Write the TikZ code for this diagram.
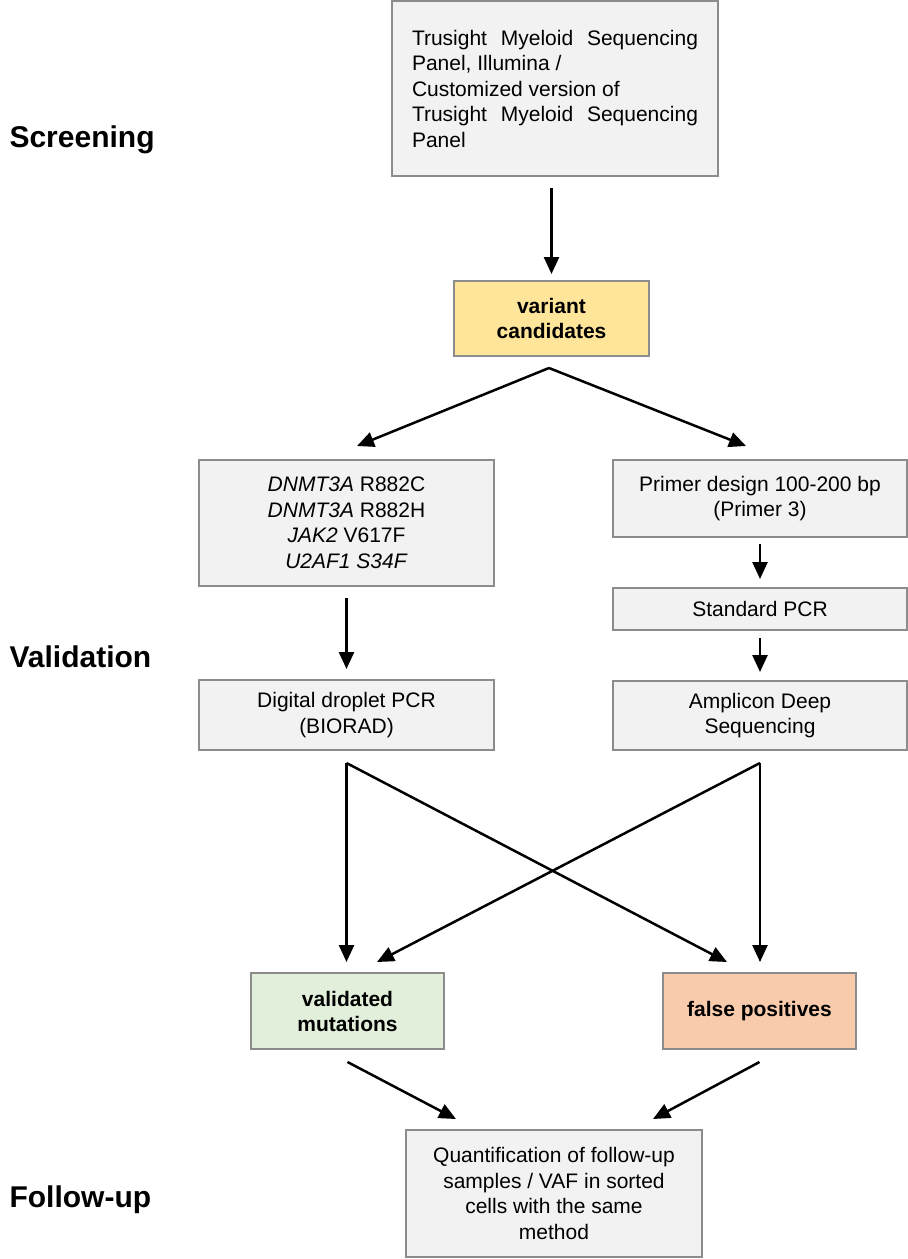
\documentclass[tikz,border=0pt]{standalone}
\usepackage{fontspec}
\setmainfont{Liberation Sans}
\usepackage{tikz}
\usetikzlibrary{arrows.meta}
\tikzset{box/.style = {draw = mborder, fill = mgray, line width = 2pt, align = center, inner sep = 0, font = \fontsize{21}{25.5}\selectfont}}
\tikzset{arr/.style = {-{Triangle[length = 17pt, width = 15pt]}, line width = 2.5pt}}
\tikzset{phase/.style = {anchor = base west, font = \fontsize{30}{36}\selectfont\bfseries}}
\definecolor{mgray}{rgb}{0.95, 0.95, 0.95}
\definecolor{mborder}{rgb}{0.55, 0.55, 0.55}
\definecolor{myellow}{rgb}{1, 0.9, 0.6}
\definecolor{mgreen}{rgb}{0.886, 0.937, 0.855}
\definecolor{morange}{rgb}{0.973, 0.796, 0.678}

\begin{document}
\begin{tikzpicture}[x = 1pt, y = -1pt]
    \useasboundingbox (0, 0) rectangle (908, 1259);

    \node [phase] (screening) at (6, 147) {Screening};
    \node [phase] (validation) at (6, 667) {Validation};
    \node [phase] (followup) at (6, 1207) {Follow-up};

    \node [box, minimum width = 326, minimum height = 175, text width = 286, align = justify] (panel) at (555, 88.5)
      {Trusight Myeloid Sequencing Panel, Illumina /\\Customized version of\\Trusight Myeloid Sequencing Panel};
    \node [box, fill = myellow, minimum width = 195, minimum height = 75, font = \fontsize{21}{25}\selectfont\bfseries] (variant) at (551.5, 318.5) {variant\\candidates};

    \node [box, minimum width = 295, minimum height = 126] (genes) at (346.5, 523)
      {\textit{DNMT3A} R882C\\\textit{DNMT3A} R882H\\\textit{JAK2} V617F\\\textit{U2AF1 S34F}};
    \node [box, minimum width = 295, minimum height = 70] (ddpcr) at (346.5, 715) {Digital droplet PCR\\(BIORAD)};

    \node [box, minimum width = 294, minimum height = 77] (primer) at (760, 498.5) {Primer design 100-200 bp\\(Primer 3)};
    \node [box, minimum width = 294, minimum height = 42] (pcr) at (760, 609) {Standard PCR};
    \node [box, minimum width = 294, minimum height = 69] (amplicon) at (760, 715.5) {Amplicon Deep\\Sequencing};

    \node [box, fill = mgreen, minimum width = 193, minimum height = 76, font = \fontsize{21}{25}\selectfont\bfseries] (valid) at (347.5, 1011) {validated\\mutations};
    \node [box, fill = morange, minimum width = 193, minimum height = 76, font = \fontsize{21}{25}\selectfont\bfseries] (falsepos) at (759.5, 1011) {false positives};

    \node [box, minimum width = 296, minimum height = 127] (quant) at (554, 1193.5)
      {Quantification of follow-up\\samples / VAF in sorted\\cells with the same\\method};

    \draw [arr, shorten <= 11pt, shorten >= 6pt] (variant.north |- panel.south) -- (variant.north);
    \draw [arr] ([xshift = -2.5, yshift = -11]variant.south) -- ([xshift = 10.5, yshift = 13]genes.north);
    \draw [arr] ([xshift = -2.5, yshift = -11]variant.south) -- ([xshift = -14, yshift = 13]primer.north);

    \draw [arr, shorten <= 11pt, shorten >= 10pt] (genes) -- (ddpcr);
    \draw [arr, shorten <= 6pt, shorten >= 8pt] (primer) -- (pcr);
    \draw [arr, shorten <= 7pt, shorten >= 8pt] (pcr) -- (amplicon);

    \foreach \src/\dst/\dx in {ddpcr/valid/-1, ddpcr/falsepos/-32.5, amplicon/falsepos/0.5, amplicon/valid/29.5} {
      \draw [arr] ([yshift = -12]\src.south) -- ([xshift = \dx, yshift = 10]\dst.north);
    }

    \draw [arr] ([yshift = -12]valid.south) -- ([xshift = -98, yshift = 10]quant.north);
    \draw [arr] ([yshift = -12]falsepos.south) -- ([xshift = 99, yshift = 10]quant.north);
  \end{tikzpicture}
\end{document}
